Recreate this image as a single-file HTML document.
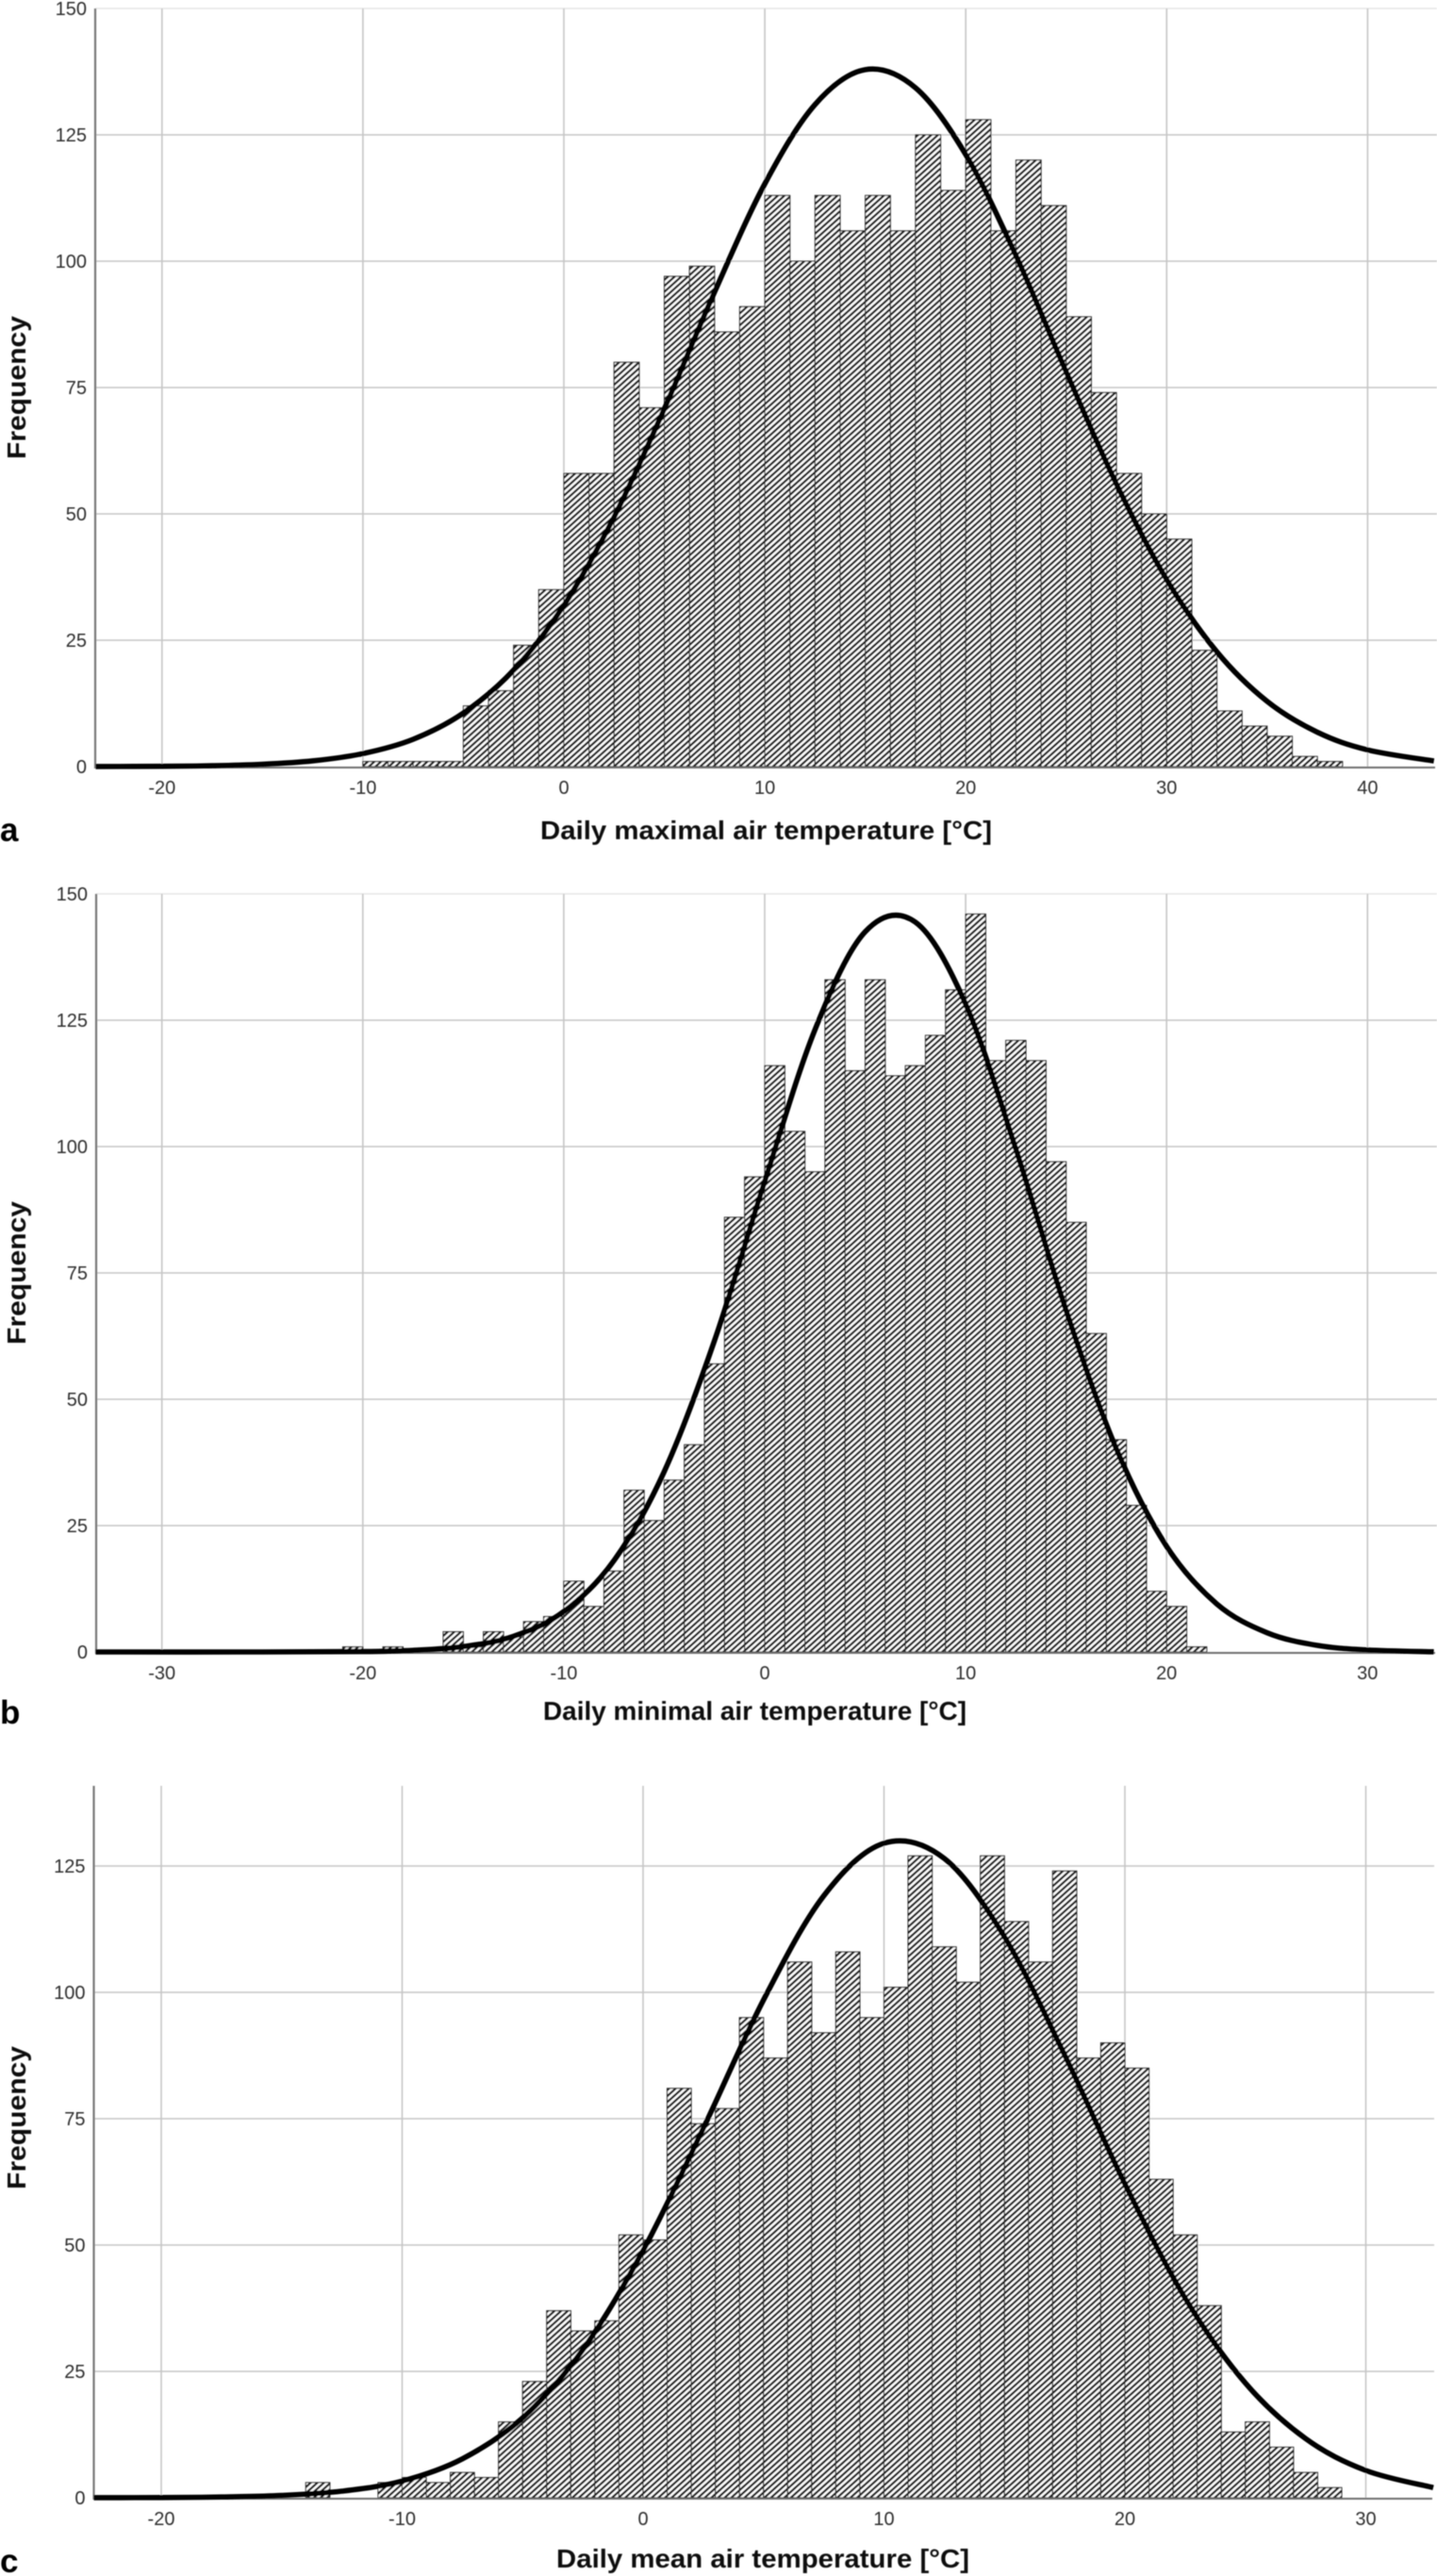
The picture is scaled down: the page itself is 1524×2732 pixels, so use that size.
<!DOCTYPE html>
<html lang="en">
<head>
<meta charset="utf-8">
<title>Daily air temperature histograms</title>
<style>
html,body{margin:0;padding:0;background:#fff;}
body{width:1524px;height:2732px;overflow:hidden;}
svg{display:block;}
text{font-family:"Liberation Sans",Arial,sans-serif;}
.tick{font-size:20px;fill:#2e2e2e;}
.title{font-size:28px;font-weight:bold;fill:#111;}
.panel{font-size:35px;font-weight:bold;fill:#000;}
</style>
</head>
<body>
<svg id="figure" xmlns="http://www.w3.org/2000/svg" width="1524" height="2732" viewBox="0 0 1524 2732">
<defs>
<pattern id="hatch" patternUnits="userSpaceOnUse" width="4.7" height="10" patternTransform="rotate(48)">
<rect width="4.7" height="10" fill="#fff"></rect>
<rect width="2.35" height="10" fill="#161616"></rect>
</pattern>
<filter id="soft" filterUnits="userSpaceOnUse" x="0" y="0" width="1524" height="2732">
<feGaussianBlur stdDeviation="0.55"></feGaussianBlur>
</filter>
</defs>
<g id="root" filter="url(#soft)"></g>
</svg>
<script>
// Panel a: daily maximal air temperature
const xTicksA = [-20, -10, 0, 10, 20, 30, 40];
const yTicksA = [0, 25, 50, 75, 100, 125, 150];
const countsA = [1, 1, 1, 1, 12, 15, 24, 35, 58, 58, 80, 71, 97, 99, 86, 91, 113, 100, 113, 106, 113, 106, 125, 114, 128, 106, 120, 111, 89, 74, 58, 50, 45, 23, 11, 8, 6, 2, 1];
const curveTempA = [-23.3, -20, -17.5, -15, -12.5, -10, -7.5, -5, -2.5, 0, 2.5, 5, 7.5, 10, 12.5, 15, 17.5, 20, 22.5, 25, 27.5, 30, 32.5, 35, 37.5, 40, 43.3];
const curveFreqA = [0.01, 0.06, 0.17, 0.46, 1.13, 2.57, 5.4, 10.6, 19.1, 31.9, 49.4, 70.8, 93.9, 115.3, 131, 137.9, 134.3, 121.1, 101.1, 78.1, 55.9, 37, 22.7, 12.9, 6.8, 3.3, 1.1];

// Panel b: daily minimal air temperature
const xTicksB = [-30, -20, -10, 0, 10, 20, 30];
const yTicksB = [0, 25, 50, 75, 100, 125, 150];
const countsB = [1, 0, 1, 0, 0, 4, 1, 4, 3, 6, 7, 14, 9, 16, 32, 26, 34, 41, 57, 86, 94, 116, 103, 95, 133, 115, 133, 114, 116, 122, 131, 146, 117, 121, 117, 97, 85, 63, 42, 29, 12, 9, 1];
const curveTempB = [-33.3, -25, -20, -17.5, -15, -12.5, -10, -7.5, -5, -2.5, 0, 2.5, 5, 7.5, 10, 12.5, 15, 17.5, 20, 22.5, 25, 27.5, 30, 33.3];
const curveFreqB = [0, 0, 0.08, 0.32, 1.06, 3.1, 8, 18.1, 35.7, 61.6, 93.1, 123.1, 142.5, 144.4, 128.2, 99.5, 67.6, 40.2, 20.9, 9.5, 3.8, 1.3, 0.4, 0.03];

// Panel c: daily mean air temperature
const xTicksC = [-20, -10, 0, 10, 20, 30];
const yTicksC = [0, 25, 50, 75, 100, 125];
const countsC = [3, 0, 0, 3, 4, 3, 5, 4, 15, 23, 37, 33, 35, 52, 51, 81, 74, 77, 95, 87, 106, 92, 108, 95, 101, 127, 109, 102, 127, 114, 106, 124, 87, 90, 85, 63, 52, 38, 13, 15, 10, 5, 2];
const curveTempC = [-22.8, -20, -17.5, -15, -12.5, -10, -7.5, -5, -2.5, 0, 2.5, 5, 7.5, 10, 12.5, 15, 17.5, 20, 22.5, 25, 27.5, 30, 32.8];
const curveFreqC = [0.01, 0.04, 0.15, 0.46, 1.3, 3.3, 7.7, 15.8, 29.3, 48.9, 73.1, 98.5, 119.1, 129.5, 126.5, 111, 87.6, 62.1, 39.5, 22.7, 11.7, 5.4, 2];

const NS = 'http://www.w3.org/2000/svg';
const root = document.getElementById('root');

function make(tag, attrs, parent, text) {
  const el = document.createElementNS(NS, tag);
  for (const k in attrs) el.setAttribute(k, attrs[k]);
  if (text !== undefined) el.textContent = text;
  parent.appendChild(el);
  return el;
}

function curvePath(xs, ys, xf, yf) {
  const p = xs.map((v, i) => [xf(v), yf(ys[i])]);
  let d = 'M' + p[0][0].toFixed(2) + ' ' + p[0][1].toFixed(2);
  for (let i = 0; i < p.length - 1; i++) {
    const a = p[Math.max(0, i - 1)], b = p[i], c = p[i + 1], e = p[Math.min(p.length - 1, i + 2)];
    const c1x = b[0] + (c[0] - a[0]) / 6, c1y = b[1] + (c[1] - a[1]) / 6;
    const c2x = c[0] - (e[0] - b[0]) / 6, c2y = c[1] - (e[1] - b[1]) / 6;
    d += 'C' + c1x.toFixed(2) + ' ' + c1y.toFixed(2) + ' ' + c2x.toFixed(2) + ' ' + c2y.toFixed(2) + ' ' + c[0].toFixed(2) + ' ' + c[1].toFixed(2);
  }
  return d;
}

function drawPanel(cfg) {
  const x = v => cfg.xZero + v * cfg.xUnit;
  const y = v => cfg.yBase - v * cfg.yUnit;
  const g = make('g', {}, root);
  
  

  cfg.yTicks.forEach(t => {
    if (t === 0) return;
    const line = make('line', {x1: cfg.left, x2: cfg.right + 2, y1: y(t), y2: y(t), stroke: t === cfg.topTick ? '#e6e6e6' : '#c6c6c6', 'stroke-width': 1.6}, g);
    
    
  });
  cfg.xTicks.forEach(t => {
    const line = make('line', {x1: x(t), x2: x(t), y1: cfg.top, y2: cfg.yBase, stroke: '#c6c6c6', 'stroke-width': 1.6}, g);
    
    
  });

  cfg.counts.forEach((c, i) => {
    if (c <= 0) return;
    const x0 = cfg.binStart + i * cfg.binWidth;
    const bar = make('rect', {x: x(x0), y: y(c), width: cfg.binWidth * cfg.xUnit, height: c * cfg.yUnit, fill: 'url(#hatch)', stroke: '#2c2c2c', 'stroke-width': 1.1}, g);
    
    
  });

  const xAxis = make('line', {x1: cfg.left, x2: cfg.right, y1: cfg.yBase + 1, y2: cfg.yBase + 1, stroke: '#6e6e6e', 'stroke-width': 2}, g);
  
  
  const yAxis = make('line', {x1: cfg.left, x2: cfg.left, y1: cfg.top, y2: cfg.yBase + 2, stroke: '#777', 'stroke-width': 2.2}, g);
  
  

  const curve = make('path', {d: curvePath(cfg.curveTemp, cfg.curveFreq, x, y), fill: 'none', stroke: '#000', 'stroke-width': 5.6, 'stroke-linejoin': 'round'}, g);
  
  

  cfg.yTicks.forEach(t => {
    const lab = make('text', {x: cfg.left - 9, y: y(t) + 7, 'text-anchor': 'end', class: 'tick'}, g, String(t));
    
    
  });
  cfg.xTicks.forEach(t => {
    const lab = make('text', {x: x(t), y: cfg.yBase + 29, 'text-anchor': 'middle', class: 'tick'}, g, String(t));
    
    
  });

  const xTitle = make('text', {x: cfg.titleX, y: cfg.titleY, class: 'title', textLength: cfg.titleW, lengthAdjust: 'spacingAndGlyphs'}, g, cfg.title);
  
  

  const yTitle = make('text', {transform: 'translate(27 ' + cfg.yTitleY + ') rotate(-90)', 'text-anchor': 'middle', class: 'title', textLength: 152, lengthAdjust: 'spacingAndGlyphs'}, g, 'Frequency');
  
  

  const letter = make('text', {x: 0, y: cfg.letterY, class: 'panel'}, g, cfg.letter);
  
  
}

drawPanel({id: 'maximal', letter: 'a', letterY: 892, xZero: 598, xUnit: 21.31, yBase: 813, yUnit: 5.36, left: 101, right: 1522, top: 9, topTick: 150,
  xTicks: xTicksA, yTicks: yTicksA, counts: countsA, binStart: -10, binWidth: 1.25, curveTemp: curveTempA, curveFreq: curveFreqA,
  title: 'Daily maximal air temperature [°C]', titleX: 573, titleY: 890, titleW: 479, yTitleY: 411});

drawPanel({id: 'minimal', letter: 'b', letterY: 1828, xZero: 811, xUnit: 21.31, yBase: 1752, yUnit: 5.36, left: 102, right: 1522, top: 948, topTick: 150,
  xTicks: xTicksB, yTicks: yTicksB, counts: countsB, binStart: -21, binWidth: 1, curveTemp: curveTempB, curveFreq: curveFreqB,
  title: 'Daily minimal air temperature [°C]', titleX: 576, titleY: 1824, titleW: 449, yTitleY: 1350});

drawPanel({id: 'mean', letter: 'c', letterY: 2728, xZero: 682, xUnit: 25.55, yBase: 2649, yUnit: 5.36, left: 99.5, right: 1519, top: 1894, topTick: null,
  xTicks: xTicksC, yTicks: yTicksC, counts: countsC, binStart: -14, binWidth: 1, curveTemp: curveTempC, curveFreq: curveFreqC,
  title: 'Daily mean air temperature [°C]', titleX: 590, titleY: 2723, titleW: 438, yTitleY: 2246});
</script>
</body>
</html>
